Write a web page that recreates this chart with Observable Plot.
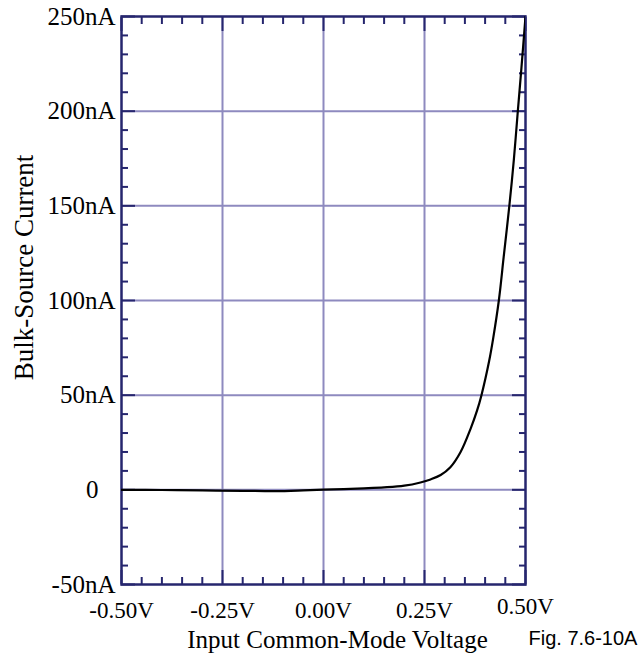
<!DOCTYPE html>
<html>
<head>
<meta charset="utf-8">
<script src="https://cdn.jsdelivr.net/npm/d3@7"></script>
<script src="https://cdn.jsdelivr.net/npm/@observablehq/plot@0.6"></script>
<style>
  html, body { margin: 0; padding: 0; background: #fff; }
</style>
</head>
<body>
<div id="chart"></div>
<script>
// Curve: input common-mode voltage (V) vs bulk-source current (nA)
const voltage = [-0.5, -0.4, -0.3, -0.2, -0.12, -0.05, 0, 0.05, 0.1, 0.15, 0.2, 0.24, 0.265, 0.29, 0.314, 0.339, 0.364, 0.38, 0.391, 0.41, 0.42, 0.434, 0.446, 0.46, 0.471, 0.481, 0.49, 0.5];
const current = [0, -0.1, -0.3, -0.5, -0.7, -0.3, 0.1, 0.4, 0.8, 1.3, 2.2, 3.9, 5.5, 7.8, 11.9, 19.8, 32.2, 41.8, 50, 68, 80, 100, 123, 150, 174, 200, 223, 250];

const xMajorTicks = [-0.5, -0.25, 0, 0.25, 0.5];
const xMinorTicks = [-0.45, -0.4, -0.35, -0.3, -0.2, -0.15, -0.1, -0.05, 0.05, 0.1, 0.15, 0.2, 0.3, 0.35, 0.4, 0.45];
const xGridLines = [-0.25, 0, 0.25];
const yMajorTicks = [-50, 0, 50, 100, 150, 200, 250];
const yMinorTicks = [-40, -30, -20, -10, 10, 20, 30, 40, 60, 70, 80, 90, 110, 120, 130, 140, 160, 170, 180, 190, 210, 220, 230, 240];
const yGridLines = [0, 50, 100, 150, 200];

const xTitle = "Input Common-Mode Voltage";
const yTitle = "Bulk-Source Current";
const figLabel = "Fig. 7.6-10A";

const data = voltage.map((v, i) => ({v, i: current[i]}));

const navy = "#26266e";
const gridColor = "#8e8abf";
const fmtX = d => d.toFixed(2) + "V";
const fmtY = d => d === 0 ? "0" : d + "nA";
const blank = () => "";

const chart = Plot.plot({
  width: 639,
  height: 654,
  marginLeft: 121,
  marginRight: 114,
  marginTop: 16,
  marginBottom: 70,
  style: {fontFamily: "'Liberation Serif', 'Times New Roman', serif", fontSize: "24px", color: "#000", background: "#fff"},
  x: {domain: [-0.5, 0.5]},
  y: {domain: [-50, 250]},
  marks: [
    Plot.ruleX(xGridLines, {stroke: gridColor, strokeWidth: 2}),
    Plot.ruleY(yGridLines, {stroke: gridColor, strokeWidth: 2}),
    // minor ticks (inward)
    Plot.axisX({ticks: xMinorTicks, anchor: "bottom", tickSize: -7, tickFormat: blank, stroke: navy, strokeWidth: 2, label: null}),
    Plot.axisX({ticks: xMinorTicks, anchor: "top", tickSize: -7, tickFormat: blank, stroke: navy, strokeWidth: 2, label: null}),
    Plot.axisY({ticks: yMinorTicks, anchor: "left", tickSize: -7, tickFormat: blank, stroke: navy, strokeWidth: 2, label: null}),
    Plot.axisY({ticks: yMinorTicks, anchor: "right", tickSize: -7, tickFormat: blank, stroke: navy, strokeWidth: 2, label: null}),
    // major ticks (inward) with labels
    Plot.axisX({ticks: xMajorTicks.filter(d => d !== 0.5), anchor: "bottom", tickSize: -14, tickPadding: 31, tickFormat: fmtX, fontSize: 23, stroke: navy, strokeWidth: 2, fill: "#000", label: null}),
    Plot.axisX({ticks: xMajorTicks.filter(d => d === 0.5), anchor: "bottom", tickSize: -14, tickPadding: 27, tickFormat: fmtX, fontSize: 23, stroke: navy, strokeWidth: 2, fill: "#000", label: null}),
    Plot.axisX({ticks: xMajorTicks, anchor: "top", tickSize: -14, tickFormat: blank, stroke: navy, strokeWidth: 2, label: null}),
    Plot.axisY({ticks: yMajorTicks.filter(d => d !== 0), anchor: "left", tickSize: -14, tickPadding: 20, tickFormat: fmtY, fontSize: 25, stroke: navy, strokeWidth: 2, fill: "#000", label: null}),
    Plot.axisY({ticks: yMajorTicks.filter(d => d === 0), anchor: "left", tickSize: -14, tickPadding: 37, tickFormat: fmtY, fontSize: 25, stroke: navy, strokeWidth: 2, fill: "#000", label: null}),
    Plot.axisY({ticks: yMajorTicks, anchor: "right", tickSize: -14, tickFormat: blank, stroke: navy, strokeWidth: 2, label: null}),
    Plot.frame({stroke: navy, strokeWidth: 2.5}),
    Plot.line(data, {x: "v", y: "i", stroke: "#000", strokeWidth: 2.2, curve: "catmull-rom", clip: true}),
    Plot.text([xTitle], {frameAnchor: "bottom", textAnchor: "middle", lineAnchor: "middle", dx: 14, dy: 55, fontSize: 25, fill: "#000"}),
    Plot.text([yTitle], {frameAnchor: "left", textAnchor: "middle", lineAnchor: "middle", rotate: -90, dx: -97, dy: -33, fontSize: 27, fill: "#000"}),
    Plot.text([figLabel], {frameAnchor: "bottom-right", textAnchor: "start", lineAnchor: "middle", dx: 3, dy: 54, fontSize: 20, fontFamily: "'Liberation Sans', Arial, sans-serif", fill: "#000"})
  ]
});

document.getElementById("chart").appendChild(chart);
</script>
</body>
</html>
